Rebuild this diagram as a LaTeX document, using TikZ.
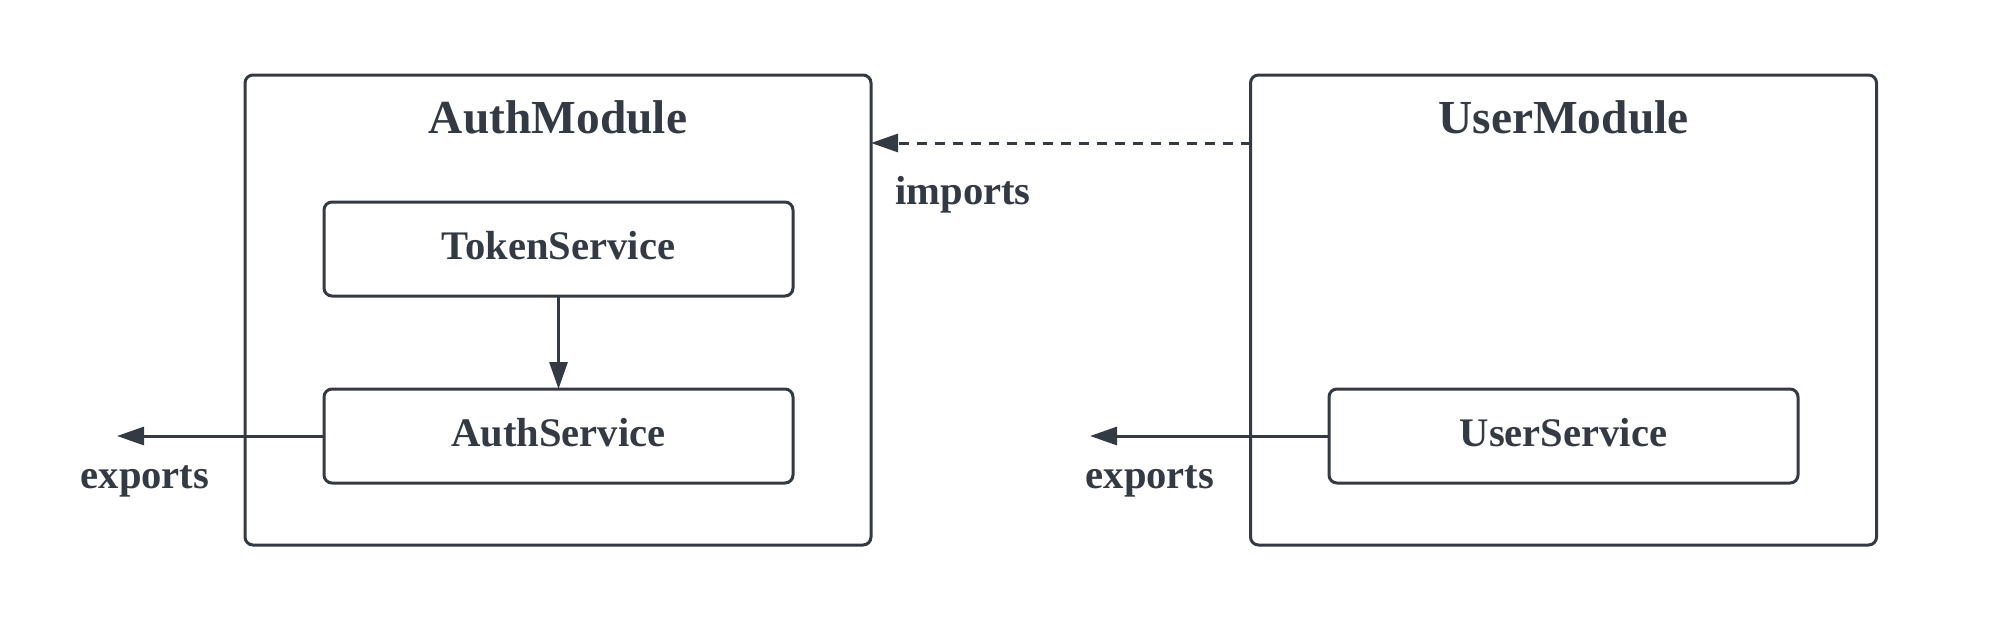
\documentclass[tikz,border=0pt]{standalone}
\usepackage{fontspec}
\setmainfont{Liberation Serif}
\usetikzlibrary{arrows.meta}
\definecolor{ink}{HTML}{343A43}
\tikzset{
  box/.style={draw=ink, line width=1.5pt, rounded corners=4pt, rectangle, outer sep=0pt, inner sep=0pt},
  modbox/.style={box, minimum width=313pt, minimum height=235pt},
  svcbox/.style={box, minimum width=234.5pt, minimum height=47pt, text height=10pt, text depth=0pt, font=\fontsize{20.3}{24}\selectfont\bfseries, text=ink},
  title/.style={font=\fontsize{23.7}{28}\selectfont\bfseries, text=ink, inner sep=0pt},
  lbl/.style={font=\fontsize{20.3}{24}\selectfont\bfseries, text=ink, inner sep=0pt},
  conn/.style={draw=ink, line width=1.5pt, -{Triangle[length=13.5pt,width=9pt]}},
}
\begin{document}
\begin{tikzpicture}[x=0.5pt,y=-0.5pt]
\useasboundingbox (0,0) rectangle (2000,627);
% modules
\node[modbox] (am) at (558,310) {};
\node[modbox] (um) at (1563.5,310) {};
\node[title] (amt) at (558,117) {AuthModule};
\node[title] (umt) at (1563.5,117) {UserModule};
% services
\node[svcbox] (ts) at (558.5,249) {TokenService};
\node[svcbox] (as) at (558.5,436) {AuthService};
\node[svcbox] (us) at (1563.5,436) {UserService};
% connectors
\draw[conn] (ts.south) -- (as.north);
\coordinate (impY) at (0,143);
\draw[conn, dash pattern=on 5pt off 4pt] (um.west |- impY) -- (am.east |- impY);
\node[lbl, anchor=west] (imp) at (895,195) {imports};
\coordinate (ex1) at (117,436);
\coordinate (ex2) at (1090,436);
\draw[conn] (as.west) -- (ex1);
\draw[conn] (us.west) -- (ex2);
\node[lbl] (exl1) at (145,481) {exports};
\node[lbl] (exl2) at (1150,481) {exports};
\end{tikzpicture}
\end{document}
